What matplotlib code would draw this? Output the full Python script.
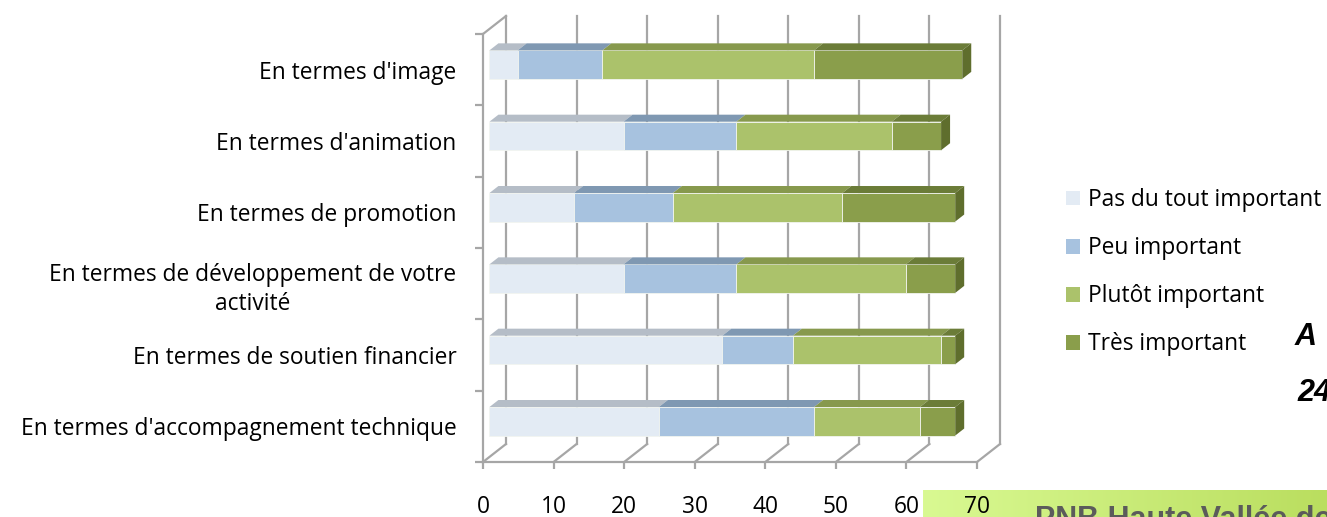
import numpy as np
import matplotlib.pyplot as plt
from matplotlib.patches import Polygon, Patch
from matplotlib.colors import LinearSegmentedColormap

plt.rcParams['font.family'] = ['Open Sans', 'DejaVu Sans']

categories = ["En termes d'image",
              "En termes d'animation",
              "En termes de promotion",
              "En termes de développement de votre\nactivité",
              "En termes de soutien financier",
              "En termes d'accompagnement technique"]
series = ["Pas du tout important", "Peu important", "Plutôt important", "Très important"]
pas_du_tout = [4, 19, 12, 19, 33, 24]
peu = [12, 16, 14, 16, 10, 22]
plutot = [30, 22, 24, 24, 21, 15]
tres = [21, 7, 16, 7, 2, 5]
x_ticks = [0, 10, 20, 30, 40, 50, 60, 70]

front_colors = ['#e3ebf4', '#a7c2df', '#abc26b', '#8a9e4b']
top_colors = ['#b5bdc7', '#7f98b2', '#87994d', '#6b7c38']
side_color = '#5f6e2d'
grid_color = '#a6a6a6'
FS = 16.4

# fake 3D: offset of the back wall, in data units
DX, DY = 3.26, 0.2523
D0, D1 = 0.28, 0.67      # front / back depth of the bars
BAR_H = 0.40

fig = plt.figure(figsize=(13.27, 5.17), dpi=100)

# green banner at the bottom right
bg = fig.add_axes([923 / 1327, 0, 404 / 1327, 27 / 517])
grad = np.linspace(0, 1, 256).reshape(1, -1)
cmap = LinearSegmentedColormap.from_list('banner', ['#d9f992', '#bade5f'])
bg.imshow(grad, aspect='auto', cmap=cmap, extent=[0, 1, 0, 1])
bg.axis('off')
bg.set_zorder(0)

ax = fig.add_axes([483 / 1327, 55 / 517, 494 / 1327, 428 / 517])
ax.set_zorder(1)
ax.patch.set_visible(False)
ax.set_xlim(0, 70)
ax.set_ylim(0, 6)

n = len(categories)
y_centers = np.arange(n)[::-1] + 0.5

# back wall gridlines and floor
for v in x_ticks:
    ax.plot([v + DX, v + DX], [DY, n + DY], color=grid_color, lw=1.6, clip_on=False, zorder=1)
    ax.plot([v, v + DX], [0, DY], color=grid_color, lw=1.6, clip_on=False, zorder=1)
ax.plot([0, DX], [n, n + DY], color=grid_color, lw=1.6, clip_on=False, zorder=1)

# stacked bars
data = np.array([pas_du_tout, peu, plutot, tres], dtype=float)
lefts = np.zeros(n)
ox, oy = D0 * DX, D0 * DY
bx, by = (D1 - D0) * DX, (D1 - D0) * DY
for s in range(len(series)):
    vals = data[s]
    ax.barh(y_centers + oy, vals, left=lefts + ox, height=BAR_H,
            color=front_colors[s], edgecolor='#f2f5f0', linewidth=0.6,
            zorder=3, clip_on=False)
    for i in range(n):
        l = lefts[i] + ox
        r = l + vals[i]
        yt = y_centers[i] + oy + BAR_H / 2
        ax.add_patch(Polygon([(l, yt), (r, yt), (r + bx, yt + by), (l + bx, yt + by)],
                             closed=True, facecolor=top_colors[s], edgecolor='none',
                             zorder=3, clip_on=False))
    lefts += vals

for i in range(n):
    r = lefts[i] + ox
    yt = y_centers[i] + oy + BAR_H / 2
    yb = y_centers[i] + oy - BAR_H / 2
    ax.add_patch(Polygon([(r, yb), (r, yt), (r + bx, yt + by), (r + bx, yb + by)],
                         closed=True, facecolor=side_color, edgecolor='none',
                         zorder=3, clip_on=False))

for side in ['top', 'right']:
    ax.spines[side].set_visible(False)
for side in ['left', 'bottom']:
    ax.spines[side].set_color(grid_color)
    ax.spines[side].set_linewidth(1.6)

ax.set_xticks(x_ticks)
ax.set_xticklabels([str(v) for v in x_ticks], fontsize=FS)
ax.set_yticks(np.arange(n + 1))
ax.set_yticklabels([])
ax.set_yticks(y_centers, minor=True)
ax.set_yticklabels(categories, minor=True, fontsize=FS, ha='right',
                   multialignment='center', linespacing=1.3)
ax.tick_params(axis='x', which='major', length=5, width=1.6, color=grid_color, pad=18.5)
ax.tick_params(axis='y', which='major', length=6, width=1.6, color=grid_color)
ax.tick_params(axis='y', which='minor', length=0, pad=19)

handles = [Patch(facecolor=c, edgecolor='none') for c in front_colors]
fig.legend(handles, series, loc='upper left', bbox_to_anchor=(1066 / 1327, 1 - 188 / 517),
           frameon=False, fontsize=FS, handlelength=0.62, handleheight=0.62,
           handletextpad=0.35, labelspacing=1.06, borderaxespad=0, borderpad=0)

fig.text(1295 / 1327, 1 - 337 / 517, 'A', fontsize=22, fontweight='bold', style='italic',
         family='Liberation Sans', va='center', ha='left')
fig.text(1297 / 1327, 1 - 393 / 517, '24', fontsize=22, fontweight='bold', style='italic',
         family='Liberation Sans', va='center', ha='left')
fig.text(1035 / 1327, 1 - 505 / 517, 'PNB Haute Vallée de Chevreuse', fontsize=22,
         fontweight='bold', color='#5b5b5b', family='Liberation Sans', va='top', ha='left',
         zorder=5)

fig.savefig('out.png', dpi=100)
